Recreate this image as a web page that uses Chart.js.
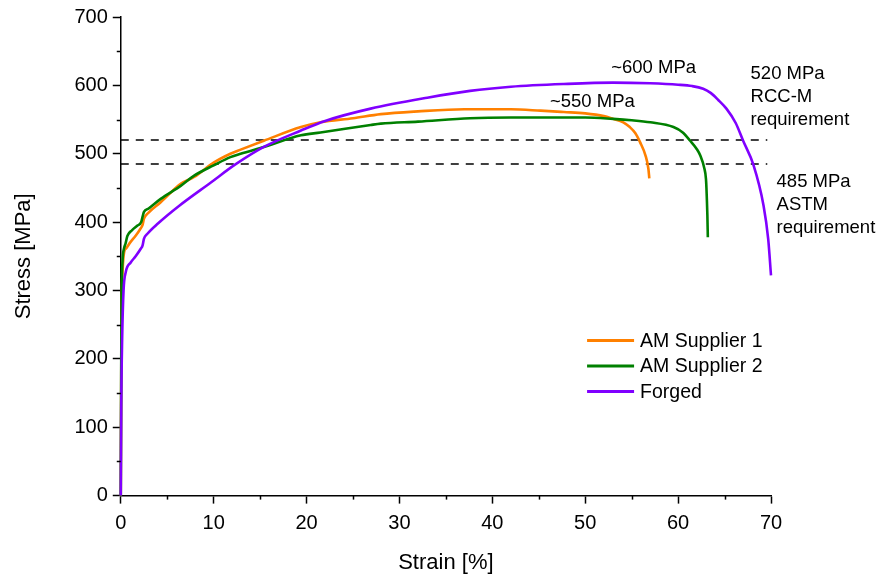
<!DOCTYPE html>
<html>
<head>
<meta charset="utf-8">
<script src="https://cdn.jsdelivr.net/npm/chart.js@4.4.1/dist/chart.umd.min.js"></script>
<style>
  html, body { margin: 0; padding: 0; background: #fff; }
</style>
</head>
<body>
<canvas id="stressChart" width="879" height="580"></canvas>
<script>
const FONT = "'Liberation Sans', Arial, sans-serif";

// AM Supplier 1
const strainAM1 = [0, 0.05, 0.1, 0.2, 0.36, 0.6, 1.0, 1.6, 2.1, 2.35, 2.5, 3.0, 4.3, 6.45, 7.9, 10, 11.8, 12.9, 15.4, 19.4, 21.5, 25, 28, 32, 37, 42, 45.2, 47.7, 50, 52, 53, 54.1, 54.8, 55.4, 55.9, 56.5, 56.8, 56.9];
const stressAM1 = [0, 180, 280, 330, 356, 362, 370, 380, 390, 396, 405, 414, 429, 456, 466, 487, 500, 506, 519, 539, 546, 552, 558, 562, 565, 565, 563, 561, 559, 555, 551, 546, 539, 530, 517, 497, 478, 464];

// AM Supplier 2
const strainAM2 = [0, 0.05, 0.1, 0.2, 0.36, 0.5, 0.72, 1.2, 1.8, 2.2, 2.35, 2.5, 3.0, 4.3, 6.45, 7.9, 10, 11.8, 12.9, 15.4, 19.4, 21.5, 26.9, 28, 32, 37.6, 42, 47.7, 50, 53, 55, 57, 59.5, 60.5, 61.3, 62, 62.4, 62.8, 63.0, 63.05, 63.15, 63.2];
const stressAM2 = [0, 200, 300, 345, 362, 368, 380, 388, 395, 400, 408, 415, 420, 434, 453, 468, 483, 495, 500, 510, 527, 531, 542, 544, 547, 552, 553, 553, 553, 551, 549, 546, 539, 531, 519, 507, 497, 480, 463, 450, 410, 378];

// Forged
const strainForged = [0, 0.05, 0.15, 0.3, 0.54, 1.07, 1.6, 2.15, 2.35, 2.5, 2.87, 4, 6.3, 9.7, 12.3, 15.4, 19.4, 22, 26.9, 33, 37.6, 42, 47.7, 53, 57, 60, 61.5, 62.7, 63.5, 64.3, 65.2, 66.2, 67.0, 68.1, 69.2, 69.7, 70];
const stressForged = [0, 130, 230, 300, 327, 341, 350, 361, 366, 376, 383, 398, 424, 458, 484, 510, 534, 548, 566, 582, 592, 598, 602, 604, 603, 601, 599, 595, 589, 579, 566, 545, 519, 484, 424, 375, 322];

// requirement levels (dashed lines)
const reqLevels = [520, 485];
const reqStrainEnd = 69.6;

const seriesNames = ['AM Supplier 1', 'AM Supplier 2', 'Forged'];
const seriesColors = ['#ff8000', '#008000', '#8000ff'];

// text notes: [lines, strain, stress]
const notes = [
  [['~600 MPa'], 52.8, 625.5],
  [['~550 MPa'], 46.2, 575.8],
  [['520 MPa', 'RCC-M', 'requirement'], 67.8, 616.7],
  [['485 MPa', 'ASTM', 'requirement'], 70.6, 458.5]
];

const toPoints = (xs, ys) => xs.map((x, i) => ({ x: x, y: ys[i] }));

const curves = [
  toPoints(strainAM1, stressAM1),
  toPoints(strainAM2, stressAM2),
  toPoints(strainForged, stressForged)
];

const datasets = [];
// Forged on top, then supplier 2, supplier 1
[2, 1, 0].forEach(i => {
  datasets.push({
    label: seriesNames[i],
    data: curves[i],
    borderColor: seriesColors[i],
    borderWidth: 2.6,
    pointRadius: 0,
    showLine: true,
    fill: false,
    cubicInterpolationMode: 'monotone',
    clip: false
  });
});
reqLevels.forEach(lv => {
  datasets.push({
    label: 'req' + lv,
    data: [{ x: 0, y: lv }, { x: reqStrainEnd, y: lv }],
    borderColor: '#000',
    borderWidth: 1.4,
    borderDash: [8, 7],
    pointRadius: 0,
    showLine: true,
    fill: false
  });
});

// minor ticks, notes, legend
const extrasPlugin = {
  id: 'extras',
  afterDraw(chart) {
    const ctx = chart.ctx;
    const xs = chart.scales.x, ys = chart.scales.y;
    const area = chart.chartArea;
    ctx.save();
    ctx.strokeStyle = '#000';
    ctx.lineWidth = 1.5;
    // minor ticks
    for (let v = 5; v < 70; v += 10) {
      const px = Math.round(xs.getPixelForValue(v)) + 0.5;
      ctx.beginPath();
      ctx.moveTo(px, area.bottom);
      ctx.lineTo(px, area.bottom + 4);
      ctx.stroke();
    }
    for (let v = 50; v < 700; v += 100) {
      const py = Math.round(ys.getPixelForValue(v)) + 0.5;
      ctx.beginPath();
      ctx.moveTo(area.left, py);
      ctx.lineTo(area.left - 4, py);
      ctx.stroke();
    }

    // notes
    ctx.fillStyle = '#000';
    ctx.font = '18.5px ' + FONT;
    ctx.textAlign = 'left';
    ctx.textBaseline = 'middle';
    notes.forEach(([lines, sx, sy]) => {
      const px = xs.getPixelForValue(sx);
      const py = ys.getPixelForValue(sy);
      lines.forEach((t, k) => ctx.fillText(t, px, py + k * 23));
    });

    // legend
    const lx = xs.getPixelForValue(50.2);
    const ly = ys.getPixelForValue(227);
    ctx.font = '19.5px ' + FONT;
    seriesNames.forEach((name, i) => {
      const y = ly + i * 25.5;
      ctx.strokeStyle = seriesColors[i];
      ctx.lineWidth = 3;
      ctx.beginPath();
      ctx.moveTo(lx, y);
      ctx.lineTo(lx + 47, y);
      ctx.stroke();
      ctx.fillStyle = '#000';
      ctx.fillText(name, lx + 53, y + 1);
    });
    ctx.restore();
  }
};

const axisCommon = {
  type: 'linear',
  border: { color: '#000', width: 1.5 },
  ticks: {
    color: '#000',
    font: { family: FONT, size: 20 },
    autoSkip: false,
    maxRotation: 0
  }
};

new Chart(document.getElementById('stressChart'), {
  type: 'scatter',
  data: { datasets },
  options: {
    responsive: false,
    animation: false,
    layout: { padding: { top: 8, right: 108, left: 7, bottom: 0 } },
    plugins: { legend: { display: false }, tooltip: { enabled: false } },
    scales: {
      x: {
        ...axisCommon,
        min: 0, max: 70,
        grid: { drawOnChartArea: false, tickLength: 8, tickColor: '#000', tickWidth: 1.5 },
        ticks: { ...axisCommon.ticks, stepSize: 10, padding: 8 },
        title: { display: true, text: 'Strain [%]', color: '#000', font: { family: FONT, size: 22 }, padding: { top: 6 } }
      },
      y: {
        ...axisCommon,
        min: 0, max: 700,
        grid: { drawOnChartArea: false, tickLength: 8, tickColor: '#000', tickWidth: 1.5 },
        ticks: { ...axisCommon.ticks, stepSize: 100, padding: 5 },
        title: { display: true, text: 'Stress [MPa]', color: '#000', font: { family: FONT, size: 22 }, padding: { bottom: 32 } }
      }
    }
  },
  plugins: [extrasPlugin]
});
</script>
</body>
</html>
